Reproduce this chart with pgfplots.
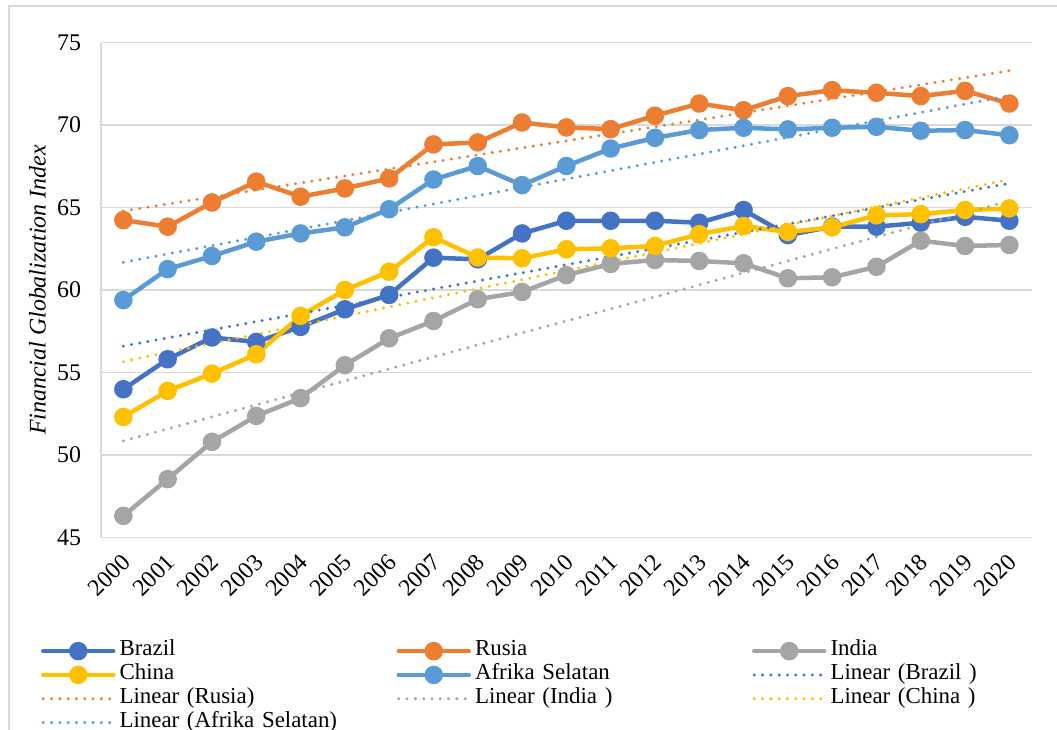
\documentclass[border=0pt]{standalone}
\usepackage{fontspec}
\setmainfont{Liberation Serif}
\usepackage{pgfplots}
\usepackage{pgfplotstable}
\pgfplotsset{compat=1.18}
\definecolor{cBrazil}{HTML}{4472C4}
\definecolor{cRusia}{HTML}{ED7D31}
\definecolor{cIndia}{HTML}{A5A5A5}
\definecolor{cChina}{HTML}{FFC000}
\definecolor{cAfrika}{HTML}{5B9BD5}
\definecolor{gridc}{HTML}{D9D9D9}

\pgfplotstableread{
year Brazil Rusia India China Afrika
2000 53.98 64.24 46.30 52.30 59.39
2001 55.80 63.84 48.53 53.88 61.27
2002 57.12 65.31 50.79 54.93 62.06
2003 56.85 66.57 52.36 56.10 62.93
2004 57.76 65.66 53.44 58.43 63.43
2005 58.83 66.16 55.44 60.00 63.80
2006 59.70 66.77 57.07 61.11 64.90
2007 61.96 68.83 58.12 63.20 66.70
2008 61.86 68.95 59.44 61.97 67.52
2009 63.43 70.16 59.88 61.92 66.36
2010 64.20 69.86 60.90 62.47 67.52
2011 64.20 69.76 61.58 62.53 68.58
2012 64.20 70.57 61.82 62.67 69.23
2013 64.08 71.31 61.76 63.39 69.70
2014 64.85 70.90 61.62 63.88 69.84
2015 63.33 71.76 60.71 63.52 69.74
2016 63.84 72.12 60.77 63.80 69.84
2017 63.84 71.96 61.41 64.53 69.90
2018 64.08 71.76 62.99 64.60 69.66
2019 64.44 72.08 62.67 64.85 69.70
2020 64.20 71.31 62.73 64.95 69.39
}\data

\pgfplotstableread{
year Brazil Rusia India China Afrika
2000 56.60 64.79 50.85 55.66 61.68
2020 66.47 73.30 65.40 66.70 71.78
}\trend

\begin{document}
\begin{tikzpicture}
\useasboundingbox (0,0) rectangle (1057bp,730bp);
\draw[gridc, line width=1.5bp] (9bp,-20bp) -- (9bp,724bp) -- (1080bp,724bp);
\begin{axis}[
  at={(101.2bp,192.7bp)}, anchor=south west,
  scale only axis, width=930.3bp, height=494.6bp,
  xmin=1999.5, xmax=2020.5, ymin=45, ymax=75,
  xtick={2000,2001,...,2020}, ytick={45,50,...,75},
  /pgf/number format/assume math mode=true,
  /pgf/number format/1000 sep={},
  tick label style={font=\fontsize{24}{28}\selectfont},
  yticklabel style={inner sep=0pt, anchor=east, xshift=-20bp},
  xticklabel style={xshift=3bp, yshift=-21bp, rotate=45, anchor=east, inner sep=0pt},
  major tick length=0pt,
  axis x line*=bottom, axis y line*=left,
  axis line style={gridc, line width=1.5bp, -},
  ymajorgrids, grid style={gridc, line width=1.5bp},
  ylabel={\textit{Financial Globalization Index}},
  every axis y label/.style={at={(axis description cs:-0.0685,0.5)}, rotate=90, anchor=center, font=\fontsize{24}{28}\selectfont},
  clip=false,
  series/.style={line width=4.5bp, mark=*, mark size=7bp, line join=round, line cap=round},
  trendl/.style={line width=3.3bp, line cap=round, dash pattern=on 0bp off 8.3bp, mark=none},
  legend columns=3,
  legend cell align=left,
  legend image code/.code={\draw[mark repeat=2,mark phase=2,#1] plot coordinates {(0bp,0bp) (35bp,0bp) (70bp,0bp)};},
  legend style={at={(axis description cs:-0.0647,-0.2061)}, anchor=north west, draw=none, fill=none, inner sep=0pt, outer sep=0pt,
    font=\fontsize{23}{25}\selectfont, row sep=0pt,
    /tikz/every odd column/.style={column sep=4bp},
    /tikz/every even column/.style={column sep=0bp},
    nodes={inner sep=0pt, text width=277bp, text height=16.5bp, text depth=7.3bp}},
]
\addplot[series, color=cBrazil] table[x=year, y=Brazil] {\data};
\addlegendentry{Brazil}
\addplot[series, color=cRusia] table[x=year, y=Rusia] {\data};
\addlegendentry{Rusia}
\addplot[series, color=cIndia] table[x=year, y=India] {\data};
\addlegendentry{India}
\addplot[series, color=cChina] table[x=year, y=China] {\data};
\addlegendentry{China}
\addplot[series, color=cAfrika] table[x=year, y=Afrika] {\data};
\addlegendentry{Afrika Selatan}
\addplot[trendl, color=cBrazil] table[x=year, y=Brazil] {\trend};
\addlegendentry{Linear (Brazil )}
\addplot[trendl, color=cRusia] table[x=year, y=Rusia] {\trend};
\addlegendentry{Linear (Rusia)}
\addplot[trendl, color=cIndia] table[x=year, y=India] {\trend};
\addlegendentry{Linear (India )}
\addplot[trendl, color=cChina] table[x=year, y=China] {\trend};
\addlegendentry{Linear (China )}
\addplot[trendl, color=cAfrika] table[x=year, y=Afrika] {\trend};
\addlegendentry{Linear (Afrika Selatan)}
\end{axis}
\end{tikzpicture}
\end{document}
